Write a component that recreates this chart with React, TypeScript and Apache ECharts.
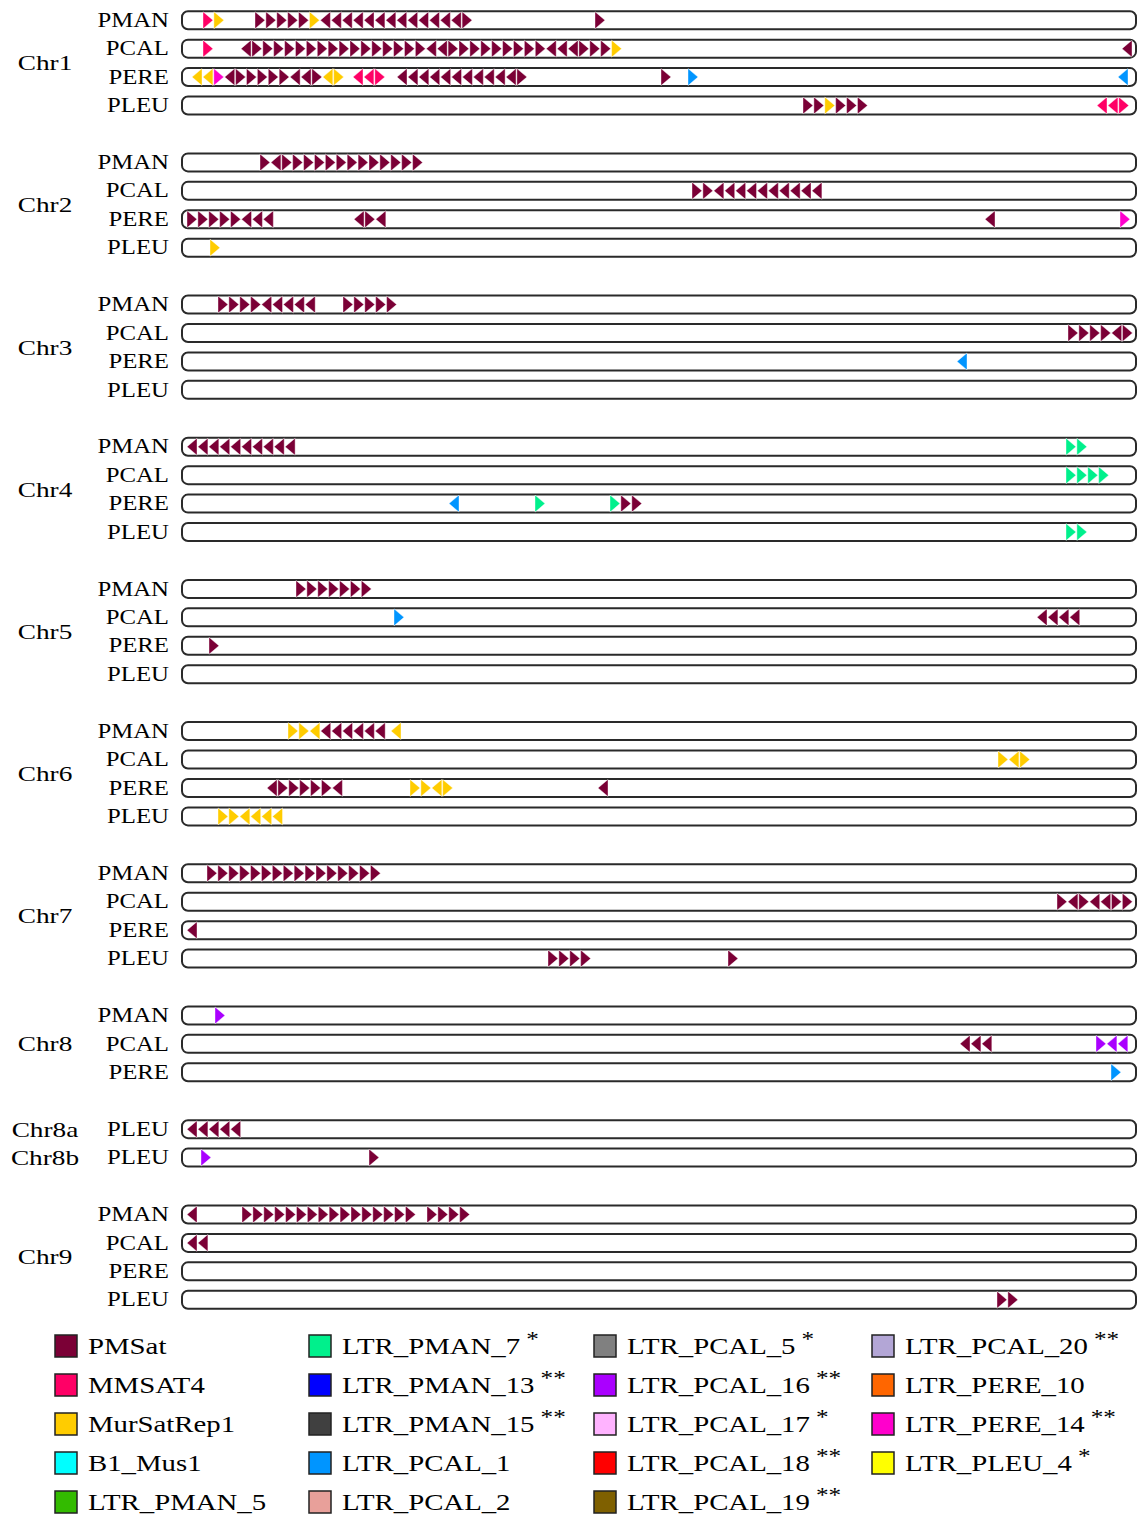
import React, { useEffect, useRef } from "react";
import * as echarts from "echarts";

const SERIF = '"Liberation Serif", "Times New Roman", serif';

// ---------- DATA ----------
const chromosomes = ["Chr1", "Chr2", "Chr3", "Chr4", "Chr5", "Chr6", "Chr7", "Chr8", "Chr8a", "Chr8b", "Chr9"];
const FOUR = ["PMAN", "PCAL", "PERE", "PLEU"];
const tracksPerChromosome = [FOUR, FOUR, FOUR, FOUR, FOUR, FOUR, FOUR, ["PMAN", "PCAL", "PERE"], ["PLEU"], ["PLEU"], FOUR];

const CHROMOSOME_LENGTH = 956; // relative position units
const UNIT_LENGTH = 10.9; // length of one tandem unit

// repeat arrays: [start position, units ("P>" = PMSat forward, "P<5" = 5 reverse units ...)]
const chr1 = [
  [[22, "M> Y>"], [74, "P>5 Y> P<13 P>"], [414, "P>"]],
  [[22, "M>"], [60, "P< P>16 P<2 P>9 P<3 P>3 Y>"], [941, "P<"]],
  [[11, "Y<2 E> P< P>5 P<2 P> Y< Y>"], [172, "M<2 M>"], [216, "P<11 P>"], [480, "P>"], [507, "B>"], [937, "B<"]],
  [[622, "P>2 Y> P>3"], [916, "M<2 M>"]],
];
const chr2 = [
  [[79, "P> P< P>13"]],
  [[511, "P>2 P<10"]],
  [[6, "P>5 P<3"], [173, "P< P> P<"], [804, "P<"], [939, "E>"]],
  [[29, "Y>"]],
];
const chr3 = [
  [[37, "P>4 P<5"], [162, "P>5"]],
  [[887, "P>4 P< P>"]],
  [[776, "B<"]],
  [],
];
const chr4 = [
  [[6, "P<10"], [885, "G>2"]],
  [[885, "G>4"]],
  [[268, "B<"], [354, "G>"], [429, "G> P>2"]],
  [[885, "G>2"]],
];
const chr5 = [
  [[115, "P>7"]],
  [[213, "B>"], [856, "P<4"]],
  [[28, "P>"]],
  [],
];
const chr6 = [
  [[107, "Y>2 Y< P<6"], [210, "Y<"]],
  [[817, "Y> Y< Y>"]],
  [[86, "P< P>5 P<"], [229, "Y>2 Y< Y>"], [417, "P<"]],
  [[37, "Y>2 Y<4"]],
];
const chr7 = [
  [[26, "P>16"]],
  [[876, "P> P< P> P<2 P>2"]],
  [[6, "P<"]],
  [[367, "P>4"], [547, "P>"]],
];
const chr8 = [
  [[34, "V>"]],
  [[779, "P<3"], [915, "V> V<2"]],
  [[930, "B>"]],
];
const chr8a = [[[6, "P<5"]]];
const chr8b = [[[20, "V>"], [188, "P>"]]];
const chr9 = [
  [[6, "P<"], [61, "P>16"], [246, "P>4"]],
  [[6, "P<2"]],
  [],
  [[816, "P>2"]],
];
const repeatsPerChromosome = [chr1, chr2, chr3, chr4, chr5, chr6, chr7, chr8, chr8a, chr8b, chr9];

const repeatCodes: Record<string, string> = {
  P: "PMSat", M: "MMSAT4", Y: "MurSatRep1", E: "LTR_PERE_14", B: "LTR_PCAL_1", G: "LTR_PMAN_7", V: "LTR_PCAL_16",
};

const legendNames = [
  "PMSat", "MMSAT4", "MurSatRep1", "B1_Mus1", "LTR_PMAN_5",
  "LTR_PMAN_7", "LTR_PMAN_13", "LTR_PMAN_15", "LTR_PCAL_1", "LTR_PCAL_2",
  "LTR_PCAL_5", "LTR_PCAL_16", "LTR_PCAL_17", "LTR_PCAL_18", "LTR_PCAL_19",
  "LTR_PCAL_20", "LTR_PERE_10", "LTR_PERE_14", "LTR_PLEU_4",
];
const legendMarks = [
  "", "", "", "", "",
  "*", "**", "**", "", "",
  "*", "**", "*", "**", "**",
  "**", "", "**", "*",
];
const legendColors = [
  "#7b0036", "#ff0066", "#ffcc00", "#00ffff", "#33bb00",
  "#00f08c", "#0000ff", "#404040", "#0095ff", "#e8a09a",
  "#808080", "#aa00ff", "#ffb3ff", "#ff0000", "#7f6000",
  "#b3a6d6", "#ff6600", "#ff00cc", "#ffff00",
];

// ---------- BUILD ----------
type Row = { slot: number; species: string };
const rows: Row[] = [];
const chrLabels: { name: string; center: number }[] = [];
const units: [number, number, number, number][] = []; // pos, slot, dir, legend index

(() => {
  let slot = 0;
  chromosomes.forEach((c, ci) => {
    const first = slot;
    tracksPerChromosome[ci].forEach((sp, ti) => {
      rows.push({ slot, species: sp });
      const arrays = repeatsPerChromosome[ci][ti] || [];
      arrays.forEach(([start, spec]: any) => {
        let k = 0;
        String(spec).split(" ").forEach((tok) => {
          const code = tok[0];
          const dir = tok[1] === ">" ? 1 : -1;
          const n = tok.length > 2 ? parseInt(tok.slice(2), 10) : 1;
          const li = legendNames.indexOf(repeatCodes[code]);
          for (let j = 0; j < n; j++) {
            units.push([start + k * UNIT_LENGTH, slot, dir, li]);
            k++;
          }
        });
      });
      slot++;
    });
    chrLabels.push({ name: c, center: (first + slot - 1) / 2 });
    if (c !== "Chr8a") slot += 1;
  });
})();
const lastSlot = rows[rows.length - 1].slot;

export default function App() {
  const ref = useRef<HTMLDivElement>(null);
  useEffect(() => {
    if (!ref.current) return;
    const chart = echarts.init(ref.current, undefined, { renderer: "svg" });

    const colX = [55, 309, 594, 872];
    const rowY = [1346, 1385, 1424, 1463, 1502];
    const legendEls: any[] = [];
    legendNames.forEach((name, i) => {
      const col = Math.floor(i / 5);
      const r = i % 5;
      legendEls.push({
        type: "rect",
        shape: { x: colX[col], y: rowY[r] - 11, width: 22, height: 22 },
        style: { fill: legendColors[i], stroke: "#222", lineWidth: 1.5 },
      });
      legendEls.push({
        type: "text",
        x: colX[col] + 33,
        y: rowY[r],
        scaleX: 1.2,
        style: {
          text: `{n|${name}}` + (legendMarks[i] ? `{s|${legendMarks[i]}}` : ""),
          rich: {
            n: { fontSize: 24, fontFamily: SERIF, fill: "#000", lineHeight: 36, verticalAlign: "middle" },
            s: { fontSize: 21, fontFamily: SERIF, fill: "#000", lineHeight: 20, verticalAlign: "top", padding: [0, 0, 0, 5] },
          },
          verticalAlign: "middle",
          textVerticalAlign: "middle",
          align: "left",
        },
      });
    });

    const option: any = {
      animation: false,
      grid: { left: 181, top: 6, width: CHROMOSOME_LENGTH, height: 1308 },
      xAxis: { type: "value", min: 0, max: CHROMOSOME_LENGTH, show: false },
      yAxis: { type: "value", min: -0.5, max: lastSlot + 0.5, inverse: true, show: false },
      graphic: { elements: legendEls },
      series: [
        {
          type: "custom",
          clip: false,
          silent: true,
          encode: { x: 0, y: 1 },
          data: rows.map((r, i) => [0, r.slot, i]),
          renderItem: (_p: any, api: any) => {
            const row = rows[api.value(2)];
            const [x0, y] = api.coord([0, api.value(1)]);
            const [x1] = api.coord([CHROMOSOME_LENGTH, api.value(1)]);
            return {
              type: "group",
              children: [
                {
                  type: "rect",
                  shape: { x: x0 + 1, y: y - 9, width: x1 - x0 - 2, height: 18, r: 6 },
                  style: { fill: "#fff", stroke: "#2a2a2a", lineWidth: 2 },
                },
                {
                  type: "text",
                  x: x0 - 12,
                  y: y,
                  scaleX: 1.24,
                  style: {
                    text: row.species,
                    fontSize: 20,
                    fontFamily: SERIF,
                    fill: "#000",
                    align: "right",
                    verticalAlign: "middle",
                    textAlign: "right",
                    textVerticalAlign: "middle",
                  },
                },
              ],
            };
          },
        },
        {
          type: "custom",
          clip: false,
          silent: true,
          encode: { x: 0, y: 1 },
          data: chrLabels.map((c, i) => [0, c.center, i]),
          renderItem: (_p: any, api: any) => {
            const c = chrLabels[api.value(2)];
            const [x0, y] = api.coord([0, api.value(1)]);
            return {
              type: "text",
              x: x0 - 136,
              y: y,
              scaleX: 1.3,
              style: {
                text: c.name,
                fontSize: 21,
                fontFamily: SERIF,
                fill: "#000",
                align: "center",
                verticalAlign: "middle",
                textAlign: "center",
                textVerticalAlign: "middle",
              },
            };
          },
        },
        {
          type: "custom",
          silent: true,
          encode: { x: 0, y: 1 },
          data: units,
          renderItem: (_p: any, api: any) => {
            const [x, y] = api.coord([api.value(0), api.value(1)]);
            const w = api.size([10, 0])[0];
            const dir = api.value(2);
            const h = 8.5;
            const pts = dir > 0
              ? [[x, y - h], [x, y + h], [x + w, y]]
              : [[x + w, y - h], [x + w, y + h], [x, y]];
            return {
              type: "polygon",
              shape: { points: pts },
              style: { fill: legendColors[api.value(3)], stroke: "#ffffff", lineWidth: 0.4 },
            };
          },
        },
      ],
    };
    chart.setOption(option);
    return () => chart.dispose();
  }, []);
  return <div ref={ref} style={{ position: "absolute", left: 0, top: 0, width: 1137, height: 1517 }} />;
}
